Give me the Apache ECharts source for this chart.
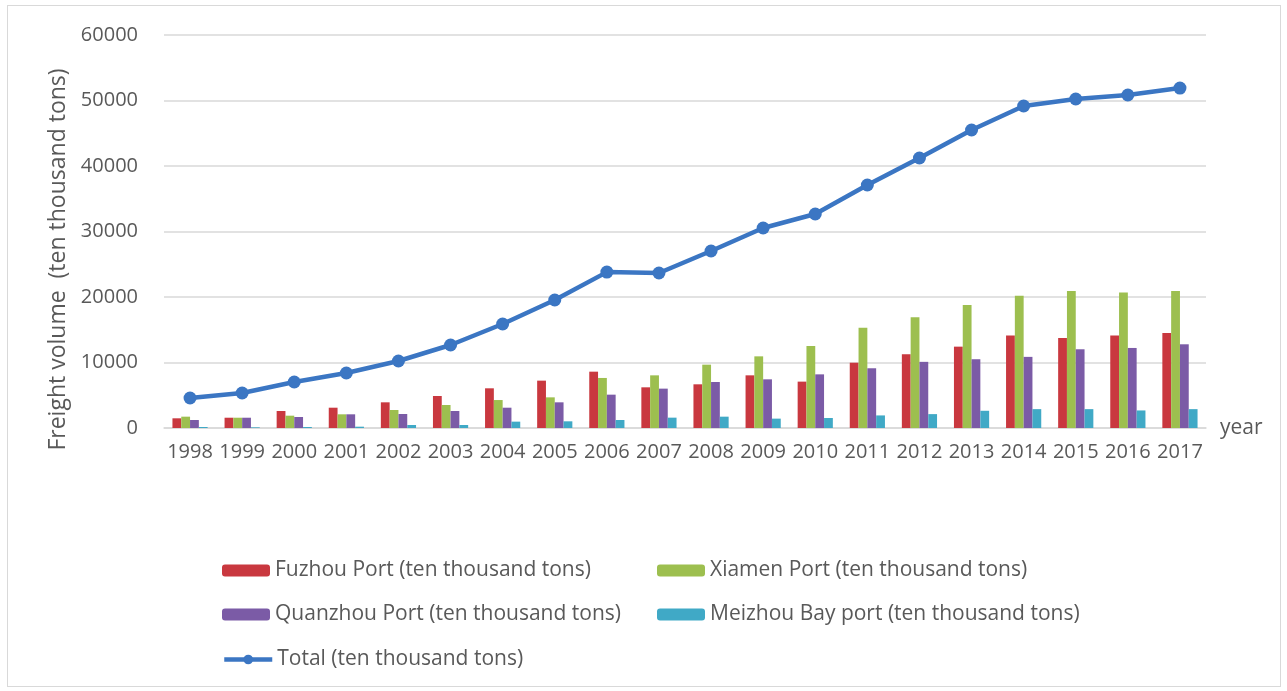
<!DOCTYPE html>
<html>
<head>
<meta charset="utf-8">
<script src="https://cdn.jsdelivr.net/npm/echarts@6/dist/echarts.min.js"></script>
<style>
  html, body { margin: 0; padding: 0; background: #fff; }
  #frame { position: absolute; left: 7px; top: 5px; width: 1272px; height: 680px; border: 1px solid #d9d9d9; }
  #chart { position: absolute; left: 0; top: 0; width: 1287px; height: 691px; }
</style>
</head>
<body>
<div id="frame"></div>
<div id="chart"></div>
<script>
const years = ['1998','1999','2000','2001','2002','2003','2004','2005','2006','2007',
  '2008','2009','2010','2011','2012','2013','2014','2015','2016','2017'];

const fuzhou   = [1480, 1570, 2600, 3100, 3920, 4890, 6060, 7230, 8600, 6210,
  6670, 8040, 7080, 9970, 11260, 12420, 14140, 13740, 14140, 14490];
const xiamen   = [1730, 1570, 1880, 2090, 2750, 3510, 4270, 4680, 7640, 8040,
  9670, 10940, 12520, 15300, 16920, 18790, 20200, 20900, 20700, 20900];
const quanzhou = [1220, 1570, 1680, 2090, 2140, 2600, 3100, 3920, 5090, 6010,
  7020, 7430, 8190, 9120, 10100, 10500, 10860, 12020, 12220, 12780];
const meizhou  = [150, 100, 150, 200, 460, 460, 970, 1020, 1220, 1580,
  1730, 1430, 1530, 1920, 2120, 2630, 2880, 2880, 2680, 2880];
const total    = [4580, 5340, 7020, 8400, 10230, 12670, 15880, 19540, 23800, 23660,
  27020, 30530, 32670, 37100, 41220, 45500, 49160, 50230, 50840, 51900];

const names = [
  'Fuzhou Port (ten thousand tons)',
  'Xiamen Port (ten thousand tons)',
  'Quanzhou Port (ten thousand tons)',
  'Meizhou Bay port (ten thousand tons)',
  'Total (ten thousand tons)'
];
const colors = ['#c9383f', '#9dbf4f', '#7b5ba6', '#40a9c6', '#3b76c3'];

const font = 'Open Sans';
const textColor = '#595959';

const chart = echarts.init(document.getElementById('chart'), null, { renderer: 'canvas' });

// legend items sit in two columns, three rows
const legendPos = [[217, 555], [652, 555], [217, 599], [652, 599], [217, 644]];

const option = {
  animation: false,
  backgroundColor: 'transparent',
  color: colors,
  legend: names.map((n, i) => ({
    data: [n],
    left: legendPos[i][0],
    top: legendPos[i][1],
    itemWidth: 48,
    itemHeight: 12,
    itemGap: 6,
    lineStyle: { width: 4.5 },
    textStyle: { fontFamily: font, fontSize: 21, color: textColor }
  })),
  grid: { left: 164, right: 81, top: 35, bottom: 263, containLabel: false },
  xAxis: {
    type: 'category',
    data: years,
    name: 'year',
    nameLocation: 'end',
    nameGap: 14,
    nameTextStyle: { fontFamily: font, fontSize: 21, color: textColor, verticalAlign: 'middle' },
    axisLine: { lineStyle: { color: '#d9d9d9', width: 1.5 } },
    axisTick: { show: false },
    axisLabel: { fontFamily: font, fontSize: 20, color: textColor, margin: 14, interval: 0 }
  },
  yAxis: {
    type: 'value',
    min: 0,
    max: 60000,
    interval: 10000,
    name: 'Freight volume  (ten thousand tons)',
    nameLocation: 'middle',
    nameGap: 88,
    nameTextStyle: { fontFamily: font, fontSize: 23, color: textColor, padding: [0, 56, 0, 0] },
    axisLine: { show: false },
    axisTick: { show: false },
    splitLine: { lineStyle: { color: '#d9d9d9', width: 1.5 } },
    axisLabel: {
      fontFamily: font, fontSize: 20, color: textColor, margin: 26,
      formatter: v => String(v)
    }
  },
  series: [
    { name: names[0], type: 'bar', data: fuzhou, barWidth: 8.8, barGap: '0%' },
    { name: names[1], type: 'bar', data: xiamen, barWidth: 8.8, barGap: '0%' },
    { name: names[2], type: 'bar', data: quanzhou, barWidth: 8.8, barGap: '0%' },
    { name: names[3], type: 'bar', data: meizhou, barWidth: 8.8, barGap: '0%' },
    {
      name: names[4], type: 'line', data: total, z: 5,
      symbol: 'circle', symbolSize: 13,
      lineStyle: { width: 4.5, color: colors[4] },
      itemStyle: { color: colors[4] }
    }
  ]
};

chart.setOption(option);
</script>
</body>
</html>
